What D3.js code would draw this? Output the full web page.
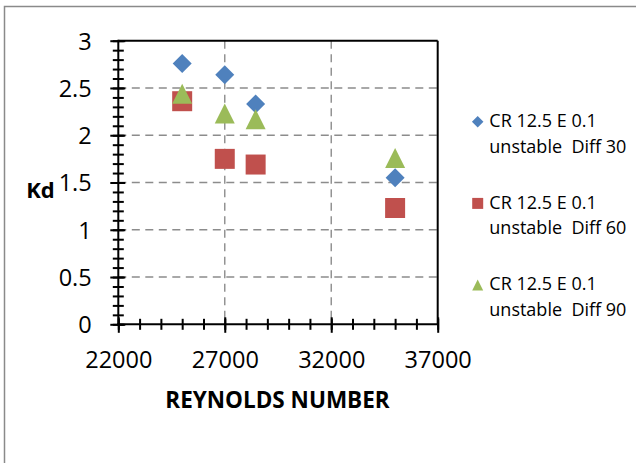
<!DOCTYPE html>
<html>
<head>
<meta charset="utf-8">
<script src="https://cdn.jsdelivr.net/npm/d3@7"></script>
<style>
  body { margin: 0; background: #fff; }
  svg { display: block; }
  text { font-family: "Open Sans", "Noto Sans", sans-serif; fill: #000; }
</style>
</head>
<body>
<svg id="chart" width="636" height="463"></svg>
<script>
// Reynolds number at each measurement and Kd for the three diffuser angles
const reynolds = [25000, 27000, 28450, 35000];
const kdDiff30 = [2.76, 2.64, 2.33, 1.55];
const kdDiff60 = [2.36, 1.75, 1.69, 1.23];
const kdDiff90 = [2.44, 2.23, 2.17, 1.76];

const seriesLine1 = ["CR 12.5 E 0.1", "CR 12.5 E 0.1", "CR 12.5 E 0.1"];
const seriesLine2 = ["unstable  Diff 30", "unstable  Diff 60", "unstable  Diff 90"];
const seriesColors = ["#4F81BD", "#C0504D", "#9BBB59"];

const xTicks = [22000, 27000, 32000, 37000];
const yTicks = [0, 0.5, 1, 1.5, 2, 2.5, 3];
const xMinorTicks = d3.range(22000, 37001, 1000);
const yMinorTicks = d3.range(0, 31).map(i => i / 10);

const xTitle = "REYNOLDS NUMBER";
const yTitle = "Kd";

const svg = d3.select("#chart");

const x = d3.scaleLinear().domain([22000, 37000]).range([118.3, 437.7]);
const y = d3.scaleLinear().domain([0, 3]).range([324.3, 40.7]);

// Excel-style marker shapes as d3 symbol types
const diamondType = {
  draw(ctx, size) {
    const r = Math.sqrt(size) / 2;
    ctx.moveTo(0, -r); ctx.lineTo(r, 0); ctx.lineTo(0, r); ctx.lineTo(-r, 0); ctx.closePath();
  }
};
const squareType = {
  draw(ctx, size) {
    const r = Math.sqrt(size) / 2;
    ctx.rect(-r, -r, 2 * r, 2 * r);
  }
};
const triangleType = {
  draw(ctx, size) {
    const r = Math.sqrt(size) / 2;
    ctx.moveTo(0, -r); ctx.lineTo(r, r); ctx.lineTo(-r, r); ctx.closePath();
  }
};
const seriesTypes = [diamondType, squareType, triangleType];
const seriesValues = [kdDiff30, kdDiff60, kdDiff90];

// chart frame
svg.append("rect")
  .attr("x", 4.5).attr("y", 6.5)
  .attr("width", 700).attr("height", 500)
  .attr("fill", "#fff")
  .attr("stroke", "#8a8a8a").attr("stroke-width", 1.5);

// dashed gridlines
const grid = svg.append("g")
  .attr("stroke", "#8c8c8c").attr("stroke-width", 1.4)
  .attr("stroke-dasharray", "8,5.5");
grid.selectAll("line.h").data(yTicks.filter(v => v > 0 && v < 3)).join("line")
  .attr("class", "h")
  .attr("x1", x(22000)).attr("x2", x(37000))
  .attr("y1", d => y(d)).attr("y2", d => y(d));
grid.selectAll("line.v").data(xTicks.filter(v => v > 22000 && v < 37000)).join("line")
  .attr("class", "v")
  .attr("y1", y(3)).attr("y2", y(0))
  .attr("x1", d => x(d)).attr("x2", d => x(d));

// plot area top and right edges
svg.append("line")
  .attr("x1", x(22000)).attr("x2", x(37000))
  .attr("y1", y(3)).attr("y2", y(3))
  .attr("stroke", "#000").attr("stroke-width", 2);
svg.append("line")
  .attr("x1", x(37000)).attr("x2", x(37000))
  .attr("y1", y(3)).attr("y2", y(0))
  .attr("stroke", "#000").attr("stroke-width", 2);

// data markers
seriesValues.forEach((vals, s) => {
  const sym = d3.symbol().type(seriesTypes[s]).size(s === 0 ? 19 * 19 : 20 * 20);
  svg.append("g").selectAll("path").data(vals.map((v, i) => [reynolds[i], v])).join("path")
    .attr("d", sym)
    .attr("transform", d => `translate(${x(d[0])},${y(d[1])})`)
    .attr("fill", seriesColors[s]);
});

// y axis: minor ticks, then major ticks with labels
const yMinorAxis = svg.append("g").attr("transform", `translate(${x(22000)},0)`)
  .call(d3.axisLeft(y).tickValues(yMinorTicks).tickSize(5.5).tickSizeOuter(0).tickFormat(""));
yMinorAxis.selectAll(".tick line").attr("x1", 5.5).attr("stroke-width", 2);
yMinorAxis.select(".domain").remove();

const yAxis = svg.append("g").attr("transform", `translate(${x(22000)},0)`)
  .call(d3.axisLeft(y).tickValues(yTicks).tickSize(8).tickSizeOuter(0).tickPadding(18.6)
    .tickFormat(d3.format("")));
yAxis.selectAll(".tick line").attr("x1", 7).attr("stroke-width", 2);
yAxis.select(".domain").attr("stroke-width", 2).attr("d", `M0,${y(0) + 1}V${y(3) - 1}`);
yAxis.selectAll(".tick text").attr("font-size", 23.5).attr("font-family", null).attr("dy", "0.36em");

// x axis: minor ticks, then major ticks with labels
const xMinorAxis = svg.append("g").attr("transform", `translate(0,${y(0)})`)
  .call(d3.axisBottom(x).tickValues(xMinorTicks).tickSize(5.5).tickSizeOuter(0).tickFormat(""));
xMinorAxis.selectAll(".tick line").attr("y1", -5.5).attr("stroke-width", 2);
xMinorAxis.select(".domain").remove();

const xAxis = svg.append("g").attr("transform", `translate(0,${y(0)})`)
  .call(d3.axisBottom(x).tickValues(xTicks).tickSize(8.5).tickSizeOuter(0).tickFormat(d3.format("")));
xAxis.selectAll(".tick line").attr("y1", -7).attr("stroke-width", 2);
xAxis.select(".domain").attr("stroke-width", 2).attr("d", `M${x(22000) - 1},0H${x(37000) + 1}`);
xAxis.selectAll(".tick text").attr("font-size", 23.5).attr("font-family", null)
  .attr("y", 43.4).attr("dy", 0);

svg.selectAll(".domain, .tick line").attr("stroke", "#000");
svg.selectAll(".tick text").attr("fill", "#000");

// axis titles
svg.append("text")
  .attr("x", 40.5).attr("y", 198)
  .attr("text-anchor", "middle")
  .attr("font-size", 22).attr("font-weight", "bold")
  .text(yTitle);
svg.append("text")
  .attr("x", 277.5).attr("y", 407.7)
  .attr("text-anchor", "middle")
  .attr("font-size", 22.5).attr("font-weight", "bold")
  .text(xTitle);

// legend
const legend = svg.append("g");
seriesLine1.forEach((t, i) => {
  const cy = 121.7 + i * 81.7;
  legend.append("path")
    .attr("d", d3.symbol().type(seriesTypes[i]).size(i === 0 ? 11.5 * 11.5 : 11 * 11)())
    .attr("transform", `translate(477.7,${cy})`)
    .attr("fill", seriesColors[i]);
  legend.append("text")
    .attr("x", 489.3).attr("y", 127 + i * 81.7)
    .attr("font-size", 18)
    .text(t);
  legend.append("text")
    .attr("x", 489.3).attr("y", 152.5 + i * 81.7)
    .attr("font-size", 18)
    .style("white-space", "pre")
    .text(seriesLine2[i]);
});
</script>
</body>
</html>
